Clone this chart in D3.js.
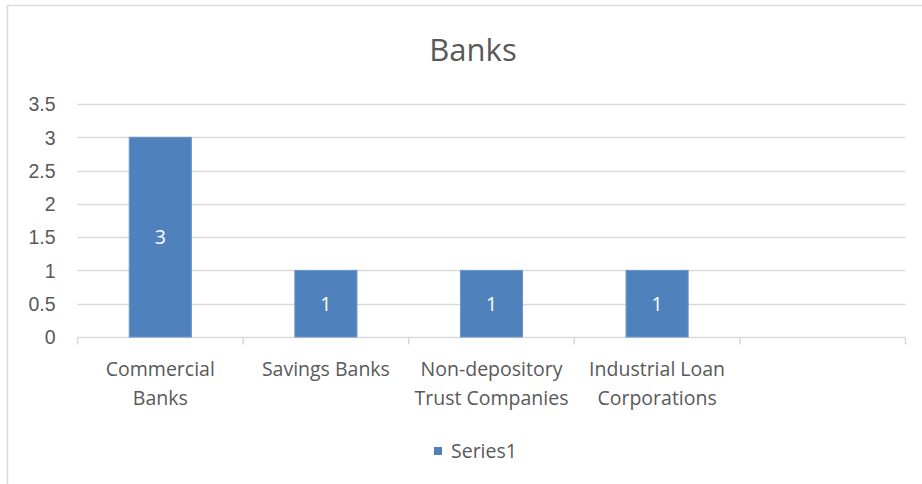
<!DOCTYPE html>
<html>
<head>
<meta charset="utf-8">
<script src="https://cdn.jsdelivr.net/npm/d3@7"></script>
<style>
  body { margin: 0; background: #fff; }
  svg { display: block; font-family: "Open Sans", "Noto Sans", sans-serif; }
</style>
</head>
<body>
<div id="chart"></div>
<script>
const categories = ["Commercial\nBanks", "Savings Banks", "Non-depository\nTrust Companies", "Industrial Loan\nCorporations", ""];
const values = [3, 1, 1, 1, null];
const yTicks = [0, 0.5, 1, 1.5, 2, 2.5, 3, 3.5];
const seriesName = "Series1";
const title = "Banks";

const width = 922,
  height = 484,
  margin = ({ top: 104, right: 16.5, bottom: 147, left: 77.5 });

const fs = 19.5;

const svg = d3.select("#chart")
  .append("svg")
  .attr("width", width)
  .attr("height", height);

// chart frame
svg.append("rect")
  .attr("x", 7.5).attr("y", 5.5)
  .attr("width", width + 10).attr("height", height + 10)
  .attr("fill", "#fff")
  .attr("stroke", "#d9d9d9")
  .attr("stroke-width", 1.5);

const x = d3.scaleBand()
  .domain(categories)
  .range([margin.left, width - margin.right]);

const y = d3.scaleLinear()
  .domain([0, 3.5])
  .range([height - margin.bottom, margin.top]);

// gridlines
svg.append("g")
  .selectAll("line")
  .data(yTicks.filter(d => d > 0))
  .join("line")
  .attr("x1", margin.left)
  .attr("x2", width - margin.right)
  .attr("y1", d => Math.round(y(d)) + 0.5)
  .attr("y2", d => Math.round(y(d)) + 0.5)
  .attr("stroke", "#d9d9d9")
  .attr("stroke-width", 1.5);

// y axis labels
svg.append("g")
  .attr("transform", `translate(${margin.left - 22},0)`)
  .call(d3.axisLeft(y).tickValues(yTicks).tickSize(0).tickFormat(d3.format("")))
  .call(g => g.select(".domain").remove())
  .call(g => g.selectAll("text")
    .attr("fill", "#595959")
    .attr("font-size", fs)
    .attr("x", 0)
    .attr("dy", "0.35em"));

// x axis
const xAxis = svg.append("g")
  .attr("transform", `translate(0,${Math.round(y(0)) + 0.5})`);

xAxis.append("line")
  .attr("x1", margin.left).attr("x2", width - margin.right)
  .attr("stroke", "#d9d9d9").attr("stroke-width", 1.5);

xAxis.selectAll(".tick")
  .data(categories.map(c => x(c)).concat([width - margin.right]))
  .join("line")
  .attr("x1", d => d).attr("x2", d => d)
  .attr("y1", 0).attr("y2", 7)
  .attr("stroke", "#d9d9d9").attr("stroke-width", 1.5);

xAxis.selectAll("text")
  .data(categories)
  .join("text")
  .attr("transform", d => `translate(${x(d) + x.bandwidth() / 2},38)`)
  .attr("text-anchor", "middle")
  .attr("fill", "#595959")
  .attr("font-size", fs)
  .selectAll("tspan")
  .data(d => d.split("\n"))
  .join("tspan")
  .attr("x", 0)
  .attr("y", (d, i) => i * 29)
  .text(d => d);

// bars
const barW = x.bandwidth() * 0.375;
const bars = categories.map((c, i) => ({ c, v: values[i] })).filter(d => d.v != null);

svg.append("g")
  .selectAll("rect")
  .data(bars)
  .join("rect")
  .attr("x", d => x(d.c) + (x.bandwidth() - barW) / 2)
  .attr("y", d => y(d.v))
  .attr("width", barW)
  .attr("height", d => y(0) - y(d.v))
  .attr("fill", "#4f81bd")
  .attr("stroke", "#6b95c8")
  .attr("stroke-width", 1);

// data labels
svg.append("g")
  .selectAll("text")
  .data(bars)
  .join("text")
  .attr("x", d => x(d.c) + x.bandwidth() / 2)
  .attr("y", d => y(d.v / 2))
  .attr("dy", "0.35em")
  .attr("text-anchor", "middle")
  .attr("fill", "#fff")
  .attr("font-size", fs)
  .text(d => d.v);

// title
svg.append("text")
  .attr("x", 473)
  .attr("y", 61)
  .attr("text-anchor", "middle")
  .attr("fill", "#595959")
  .attr("font-size", 31)
  .text(title);

// legend
const legend = svg.append("g").attr("transform", "translate(434,447)");
legend.append("rect")
  .attr("width", 8).attr("height", 8)
  .attr("fill", "#4f81bd");
legend.append("text")
  .attr("x", 17).attr("y", 4)
  .attr("dy", "0.35em")
  .attr("fill", "#595959")
  .attr("font-size", fs)
  .text(seriesName);
</script>
</body>
</html>
